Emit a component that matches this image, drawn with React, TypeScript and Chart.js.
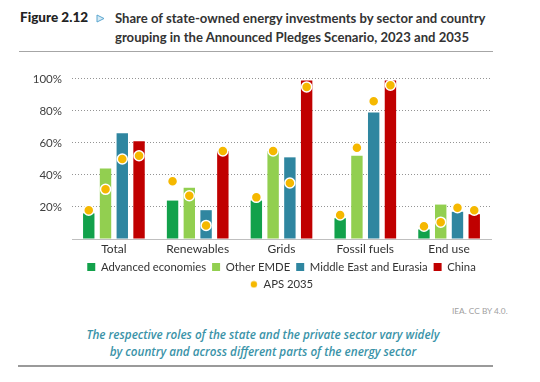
import React, { useEffect, useRef } from "react";
import { Chart, registerables } from "chart.js";

Chart.register(...registerables);

const categories = ["Total", "Renewables", "Grids", "Fossil fuels", "End use"];
const seriesNames = ["Advanced economies", "Other EMDE", "Middle East and Eurasia", "China"];
const advanced = [16, 24, 24, 13, 6];
const otherEmde = [44, 32, 55, 52, 21.5];
const middleEast = [66, 18, 51, 79, 17];
const china = [61, 55, 99, 99, 15.5];
const apsAdvanced = [18, 36, 26, 15, 8];
const apsOtherEmde = [31, 27, 55, 57, 10.5];
const apsMiddleEast = [50, 8.5, 35, 86, 19.5];
const apsChina = [52, 55, 95, 96, 18];
const apsName = "APS 2035";
const yTicks = [0, 20, 40, 60, 80, 100];

const colors = ["#12A14B", "#92CF50", "#2F86A0", "#C00000"];
const apsColor = "#F5B800";
const CAT_PCT = 0.8;
const BAR_PCT = 0.68;

const FONT = "Lato, 'Noto Sans', sans-serif";

export default function App() {
  const ref = useRef<HTMLCanvasElement | null>(null);

  useEffect(() => {
    const canvas = ref.current;
    if (!canvas) return;
    const barSeries = [advanced, otherEmde, middleEast, china];
    const apsSeries = [apsAdvanced, apsOtherEmde, apsMiddleEast, apsChina];
    const nGroups = barSeries.length;
    const apsPoints: { x: number; y: number }[] = [];
    categories.forEach((_, i) => {
      apsSeries.forEach((s, j) => {
        apsPoints.push({ x: i + (j - (nGroups - 1) / 2) * (CAT_PCT / nGroups), y: s[i] });
      });
    });

    const dot = document.createElement("canvas");
    dot.width = 8;
    dot.height = 8;
    const dctx = dot.getContext("2d")!;
    dctx.fillStyle = apsColor;
    dctx.beginPath();
    dctx.arc(4, 4, 3.2, 0, Math.PI * 2);
    dctx.fill();

    const datasets: any[] = barSeries.map((d, j) => ({
      type: "bar",
      label: seriesNames[j],
      data: d.map((v, i) => ({ x: i, y: v })),
      xAxisID: "x",
      backgroundColor: colors[j],
      borderWidth: 0,
      categoryPercentage: CAT_PCT,
      barPercentage: BAR_PCT,
      order: 1,
      pointStyle: "rect",
    }));
    datasets.push({
      type: "scatter",
      label: apsName,
      data: apsPoints,
      xAxisID: "x",
      pointRadius: 5,
      pointBackgroundColor: apsColor,
      pointBorderColor: "#ffffff",
      pointBorderWidth: 1.5,
      backgroundColor: apsColor,
      borderColor: apsColor,
      showLine: false,
      order: 0,
      pointStyle: "circle",
    });

    const chart = new Chart(canvas, {
      type: "bar",
      data: { datasets },
      options: {
        animation: false,
        responsive: false,
        maintainAspectRatio: false,
        layout: { padding: { top: 10, right: 49, left: 0, bottom: 0 } },
        plugins: {
          tooltip: { enabled: false },
          legend: {
            position: "bottom",
            fullSize: false,
            maxWidth: 400,
            labels: {
              usePointStyle: true,
              boxWidth: 8,
              boxHeight: 8,
              padding: 6,
              color: "#333333",
              font: { family: FONT, size: 11.3 },
              sort: (a: any, b: any) => a.datasetIndex - b.datasetIndex,
              generateLabels: (ch: any) => {
                const items = Chart.defaults.plugins.legend.labels.generateLabels(ch);
                return items.map((it: any) => {
                  if (it.text === apsName) {
                    return { ...it, pointStyle: dot, lineWidth: 0 };
                  }
                  return { ...it, lineWidth: 0, strokeStyle: "transparent" };
                });
              },
            },
          },
        },
        scales: {
          x: {
            type: "linear",
            offset: false,
            min: -0.5,
            max: categories.length - 0.5,
            afterBuildTicks: (scale: any) => {
              scale.ticks = categories.map((_, i) => ({ value: i }));
            },
            afterFit: (scale: any) => {
              scale.height = scale.height - 4;
            },
            grid: { display: false, drawTicks: false },
            border: { display: true, color: "#BFBFBF", width: 1 },
            ticks: {
              color: "#333333",
              font: { family: FONT, size: 12 },
              padding: 3,
              autoSkip: false,
              maxRotation: 0,
              callback: (v: any) => categories[Math.round(Number(v))] ?? "",
            },
          },
          y: {
            type: "linear",
            min: 0,
            max: 100,
            afterBuildTicks: (scale: any) => {
              scale.ticks = yTicks.map((v) => ({ value: v }));
            },
            afterFit: (scale: any) => {
              scale.width = 72;
            },
            grid: {
              color: (ctx: any) => (ctx.tick && ctx.tick.value === 0 ? "rgba(0,0,0,0)" : "#949494"),
              lineWidth: 1,
              drawTicks: false,
            },
            border: { display: false, dash: [1, 2] },
            ticks: {
              color: "#404040",
              font: { family: FONT, size: 11.5 },
              padding: 10,
              callback: (v: any) => (Number(v) === 0 ? "" : v + "%"),
            },
          },
        },
      } as any,
    });
    return () => chart.destroy();
  }, []);

  return (
    <div
      style={{
        position: "absolute",
        left: 0,
        top: 0,
        width: 540,
        height: 382,
        background: "#ffffff",
        overflow: "hidden",
        fontFamily: FONT,
      }}
    >
      <div style={{ position: "absolute", left: 20, top: 9, fontWeight: 900, fontSize: 13.5, color: "#222" }}>
        Figure 2.12
      </div>
      <svg style={{ position: "absolute", left: 96, top: 14 }} width="9" height="9" viewBox="0 0 9 9">
        <polygon points="1,1 8,4.5 1,8" fill="#D6EAF5" stroke="#5AA6CF" strokeWidth="1" />
      </svg>
      <div
        style={{
          position: "absolute",
          left: 115,
          top: 9,
          width: 420,
          fontWeight: 700,
          fontSize: 13.1,
          lineHeight: "18.5px",
          color: "#333",
          whiteSpace: "nowrap",
        }}
      >
        Share of state-owned energy investments by sector and country
        <br />
        grouping in the Announced Pledges Scenario, 2023 and 2035
      </div>
      <div style={{ position: "absolute", left: 19, top: 51, width: 474, height: 1, background: "#A6A6A6" }} />
      <canvas
        ref={ref}
        width={540}
        height={238}
        style={{ position: "absolute", left: 0, top: 62, width: 540, height: 238 }}
      />
      <div style={{ position: "absolute", left: 452, top: 306, fontSize: 8.3, color: "#A0A0A0" }}>IEA. CC BY 4.0.</div>
      <div
        style={{
          position: "absolute",
          left: 0,
          width: 526,
          top: 326,
          textAlign: "center",
          fontFamily: "'Open Sans', sans-serif",
          fontStyle: "italic",
          fontWeight: 600,
          fontSize: 11.7,
          lineHeight: "16.5px",
          color: "#3A93A8",
          whiteSpace: "nowrap",
        }}
      >
        The respective roles of the state and the private sector vary widely
        <br />
        by country and across different parts of the energy sector
      </div>
      <div style={{ position: "absolute", left: 18, top: 365, width: 475, height: 2, background: "#9A9A9A" }} />
    </div>
  );
}
